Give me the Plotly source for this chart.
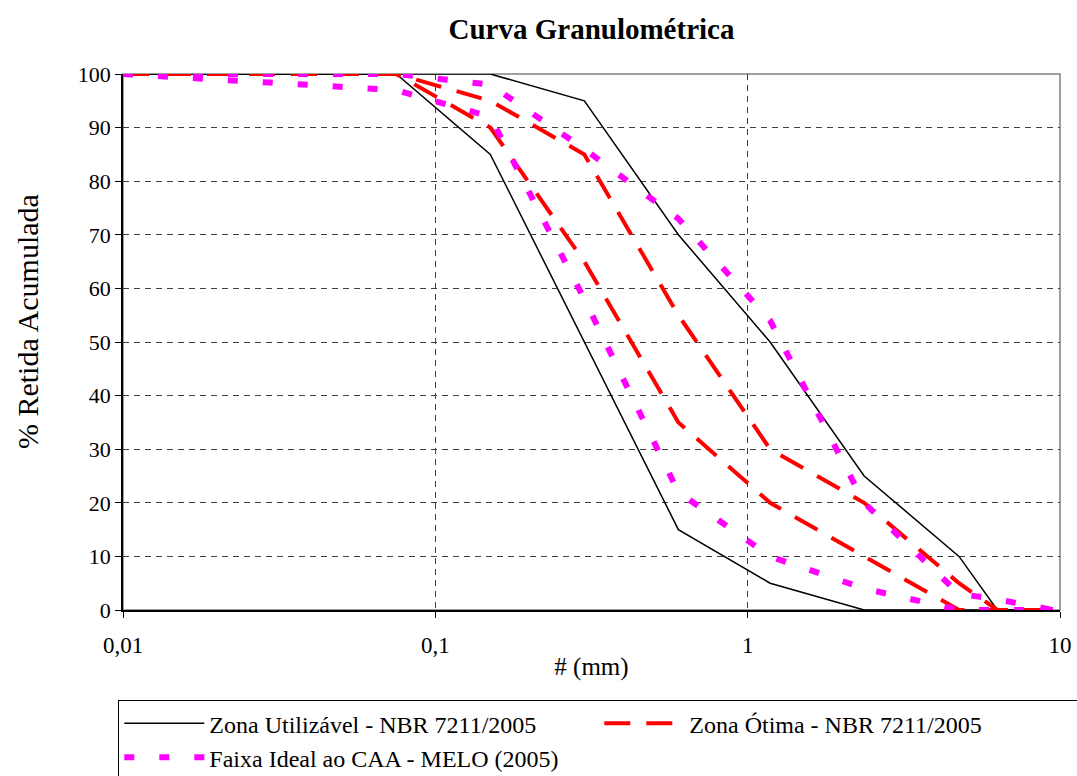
import plotly.graph_objects as go

# Sieve openings (mm)
sieves = [0.01, 0.075, 0.15, 0.3, 0.6, 1.18, 2.36, 4.75, 6.3, 9.5]

# Zona Utilizável - NBR 7211/2005 (upper & lower limits, % retida acumulada)
util_upper = [100, 100, 100, 95, 70, 50, 25, 10, 0, 0]
util_lower = [100, 100, 85, 50, 15, 5, 0, 0, 0, 0]

# Zona Ótima - NBR 7211/2005
otima_upper = [100, 100, 95, 85, 55, 30, 20, 5, 0, 0]
otima_lower = [100, 100, 90, 65, 35, 20, 10, 0, 0, 0]

# Faixa Ideal ao CAA - MELO (2005)
melo_upper = [100, 100, 98, 86, 73, 54, 20, 3, 2, 0]
melo_lower = [100, 97, 92, 58, 22, 10, 4, 0, 0, 0]

x_tickvals = [0.01, 0.1, 1, 10]
x_ticktext = ["0,01", "0,1", "1", "10"]
y_tickvals = list(range(0, 101, 10))

names = ["Zona Utilizável - NBR 7211/2005",
         "Zona Ótima - NBR 7211/2005",
         "Faixa Ideal ao CAA - MELO (2005)"]

FONT = "Liberation Serif, Times New Roman, serif"

fig = go.Figure()

styles = [
    dict(color="black", width=1.5, dash="solid"),
    dict(color="#FF0000", width=4, dash="26px,16px"),
    dict(color="#FF00FF", width=6, dash="10px,25px"),
]
series = [(util_upper, util_lower), (otima_upper, otima_lower), (melo_upper, melo_lower)]

for i, ((up, lo), st, nm) in enumerate(zip(series, styles, names)):
    fig.add_trace(go.Scatter(x=sieves, y=up, mode="lines", line=st, name=nm,
                             legendgroup=nm, showlegend=True))
    fig.add_trace(go.Scatter(x=sieves, y=lo, mode="lines", line=st, name=nm,
                             legendgroup=nm, showlegend=False))

fig.update_layout(
    width=1077, height=776,
    margin=dict(l=123, r=17, t=74, b=166, autoexpand=False),
    paper_bgcolor="white", plot_bgcolor="white",
    font=dict(family=FONT, color="black", size=20),
    title=dict(text="<b>Curva Granulométrica</b>", x=0.5, xref="paper",
               xanchor="center", y=0.963, yanchor="middle",
               font=dict(size=29, family=FONT, color="black")),
    xaxis=dict(type="log", range=[-2, 1], tickvals=x_tickvals, ticktext=x_ticktext,
               showgrid=True, gridcolor="#404040", griddash="6px,5px", gridwidth=1,
               showline=True, linecolor="black", linewidth=1.5,
               ticks="outside", ticklen=6, tickcolor="black",
               tickfont=dict(size=23, family=FONT), ticklabelstandoff=8,
               title=dict(text="# (mm)", font=dict(size=25, family=FONT), standoff=0),
               zeroline=False),
    yaxis=dict(range=[0, 100], tickvals=y_tickvals,
               showgrid=True, gridcolor="#404040", griddash="6px,5px", gridwidth=1,
               showline=True, linecolor="black", linewidth=1.5,
               ticks="outside", ticklen=6, tickcolor="black",
               tickfont=dict(size=22, family=FONT),
               zeroline=False),
    annotations=[dict(text="% Retida Acumulada", textangle=-90, showarrow=False,
                      xref="paper", yref="paper", x=-0.1025, y=0.539,
                      xanchor="center", yanchor="middle",
                      font=dict(size=30, family=FONT, color="black"))],
    legend=dict(orientation="h", x=-0.005, xanchor="left", y=-0.168, yanchor="top",
                bgcolor="white", bordercolor="black", borderwidth=1,
                font=dict(size=24, family=FONT), itemwidth=80,
                entrywidth=385, entrywidthmode="pixels", traceorder="normal",
                tracegroupgap=0),
    shapes=[dict(type="rect", xref="paper", yref="paper", x0=0, y0=0, x1=1, y1=1,
                 line=dict(color="#808080", width=1.5), layer="below")],
)

fig.write_html("out.html")
